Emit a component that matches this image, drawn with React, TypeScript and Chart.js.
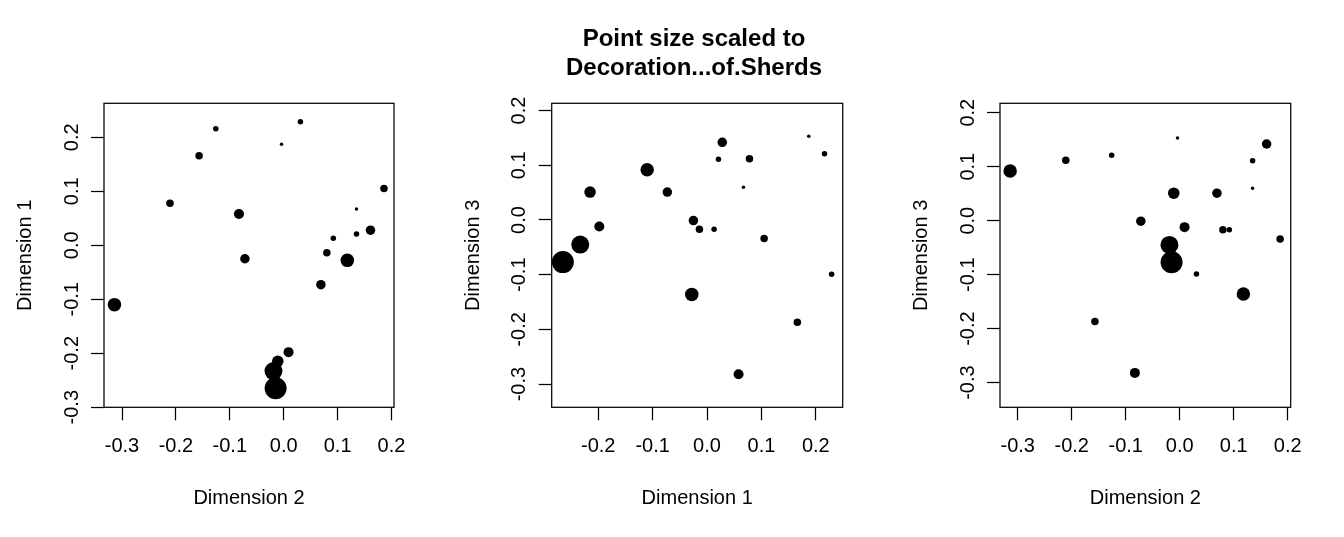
import { useEffect, useRef } from "react";
import { Chart, registerables } from "chart.js";

Chart.register(...registerables);

// MDS coordinates of the 20 sherd assemblages
const dim1 = [0.216, 0.229, 0.187, 0.166, 0.105, 0.078, 0.058, 0.067, 0.028, 0.021,
  0.013, -0.014, -0.025, -0.028, -0.073, -0.110, -0.198, -0.215, -0.233, -0.265];
const dim2 = [-0.126, 0.031, -0.004, -0.157, 0.186, -0.211, -0.083, 0.135, 0.161, 0.135,
  0.092, 0.080, -0.072, 0.118, 0.069, -0.314, 0.009, -0.011, -0.019, -0.015];
const dim3 = [0.121, -0.099, 0.153, -0.187, -0.034, 0.112, -0.282, 0.060, 0.142, 0.111,
  -0.017, -0.017, -0.001, -0.136, 0.051, 0.092, -0.012, 0.051, -0.045, -0.077];
// point size variable (estimated)
const decoration = [11, 11, 7, 15, 15, 15, 20, 7, 19, 11, 11, 15, 19, 27, 19, 27, 20, 23, 36, 44];

const titleLines = ["Point size scaled to", "Decoration...of.Sherds"];

const FONT = "'Liberation Sans', Arial, Helvetica, sans-serif";
const LINE = 1.25;

const fmt = (v: number | string) => {
  const n = Number(v);
  return Math.abs(n) < 1e-9 ? "0.0" : n.toFixed(1);
};

const boxPlugin = {
  id: "plotBox",
  afterDraw(chart: Chart) {
    const { ctx, chartArea: a } = chart;
    ctx.save();
    ctx.strokeStyle = "#000";
    ctx.lineWidth = LINE;
    ctx.strokeRect(a.left, a.top, a.right - a.left, a.bottom - a.top);
    ctx.restore();
  },
};

interface PanelProps {
  xs: number[];
  ys: number[];
  xLabel: string;
  yLabel: string;
  xRange: [number, number];
  yRange: [number, number];
  left: number;
  width: number;
  axisWidth: number;
  rightSpace: number;
  title?: string[];
}

function Panel({ xs, ys, xLabel, yLabel, xRange, yRange, left, width, axisWidth, rightSpace, title }: PanelProps) {
  const canvasRef = useRef<HTMLCanvasElement>(null);
  const chartRef = useRef<Chart | null>(null);

  useEffect(() => {
    if (!canvasRef.current) return;
    if (chartRef.current) chartRef.current.destroy();

    const font = { size: 20, family: FONT };
    const grid = {
      display: true,
      drawOnChartArea: false,
      drawTicks: true,
      tickLength: 13,
      tickWidth: LINE,
      tickColor: "#000",
      color: "#000",
    };

    const scales: any = {
      x: {
        type: "linear",
        min: xRange[0],
        max: xRange[1],
        ticks: {
          stepSize: 0.1,
          includeBounds: false,
          autoSkip: false,
          maxRotation: 0,
          padding: 14.5,
          color: "#000",
          font,
          callback: fmt,
        },
        grid,
        border: { display: false },
        title: { display: true, text: xLabel, color: "#000", font, padding: { top: 0, bottom: 27 } },
        afterFit: (s: any) => { s.height = 129.7; },
      },
      y: {
        type: "linear",
        min: yRange[0],
        max: yRange[1],
        ticks: {
          stepSize: 0.1,
          includeBounds: false,
          autoSkip: false,
          minRotation: 90,
          maxRotation: 90,
          crossAlign: "center",
          padding: 1.5,
          color: "#000",
          font,
          callback: fmt,
        },
        grid,
        border: { display: false },
        title: { display: true, text: yLabel, color: "#000", font, padding: { top: 13.5, bottom: 0 } },
        afterFit: (s: any) => { s.width = axisWidth; },
      },
    };
    if (title) {
      // empty right-hand box so the title stays centred over the plot
      scales.y2 = {
        type: "linear",
        position: "right",
        display: true,
        ticks: { display: false },
        grid: { display: false },
        border: { display: false },
        afterFit: (s: any) => { s.width = rightSpace; },
      };
    }

    chartRef.current = new Chart(canvasRef.current, {
      type: "scatter",
      data: {
        datasets: [
          {
            data: xs.map((x, i) => ({ x, y: ys[i] })),
            pointRadius: decoration.map(d => d / 4),
            pointHoverRadius: decoration.map(d => d / 4),
            pointBackgroundColor: "#000",
            pointBorderWidth: 0,
          },
        ],
      },
      options: {
        animation: false,
        responsive: true,
        maintainAspectRatio: false,
        events: [],
        layout: {
          padding: { left: 0, bottom: 0, top: title ? 0 : 103.3, right: title ? 0 : rightSpace },
        },
        plugins: {
          legend: { display: false },
          tooltip: { enabled: false },
          title: {
            display: !!title,
            text: title ?? "",
            color: "#000",
            font: { size: 24, weight: "bold", family: FONT, lineHeight: 1.2 },
            padding: { top: 24.8, bottom: 20.9 },
          },
        },
        scales,
      },
      plugins: [boxPlugin],
    });

    return () => {
      if (chartRef.current) {
        chartRef.current.destroy();
        chartRef.current = null;
      }
    };
  }, []);

  return (
    <div style={{ position: "absolute", left, top: 0, width, height: 537 }}>
      <canvas ref={canvasRef}></canvas>
    </div>
  );
}

export default function App() {
  return (
    <div style={{ position: "absolute", left: 0, top: 0, width: 1344, height: 537, background: "#fff" }}>
      <Panel xs={dim2} ys={dim1} xLabel="Dimension 2" yLabel="Dimension 1"
        xRange={[-0.3334, 0.2046]} yRange={[-0.3002, 0.263]}
        left={0} width={448} axisWidth={104} rightSpace={54} />
      <Panel xs={dim1} ys={dim3} xLabel="Dimension 1" yLabel="Dimension 3"
        xRange={[-0.2855, 0.2494]} yRange={[-0.3424, 0.2133]}
        left={448} width={492} axisWidth={103.7} rightSpace={97.3} title={titleLines} />
      <Panel xs={dim2} ys={dim3} xLabel="Dimension 2" yLabel="Dimension 3"
        xRange={[-0.3328, 0.2056]} yRange={[-0.3457, 0.2174]}
        left={896} width={448} axisWidth={104} rightSpace={53.3} />
    </div>
  );
}
